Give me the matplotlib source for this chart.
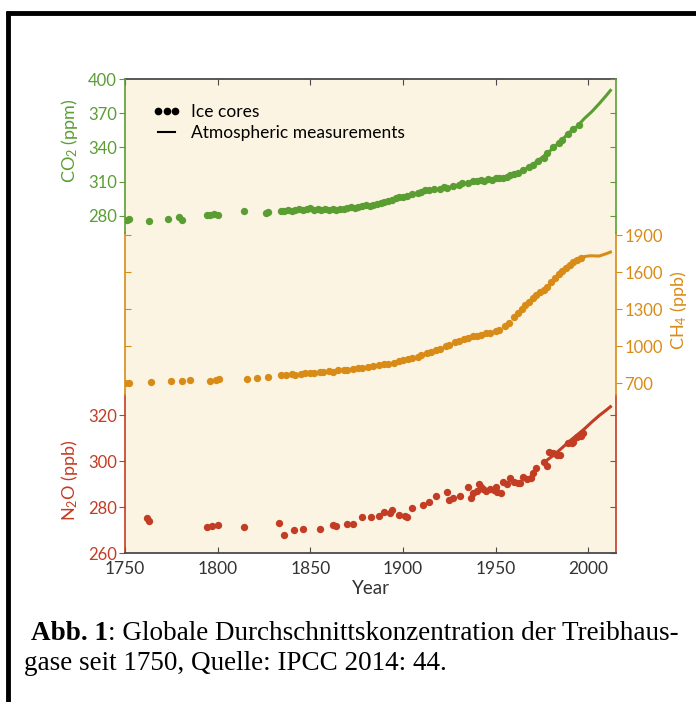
import matplotlib
matplotlib.use("Agg")
import matplotlib.pyplot as plt
from matplotlib.lines import Line2D

plt.rcParams["font.family"] = ["Lato", "DejaVu Sans"]
plt.rcParams["mathtext.fontset"] = "custom"
plt.rcParams["mathtext.rm"] = "Lato"
plt.rcParams["mathtext.it"] = "Lato:italic"

GREEN = "#5a9e33"
ORANGE = "#d98b17"
RED = "#c33c24"
BG = "#fcf4e2"
AXIS_GREY = "#4a4a4a"

# CO2 (ppm)
co2_ice_years = [1751, 1752, 1763, 1773, 1779, 1781, 1794, 1796, 1798, 1800, 1814, 1826, 1827,
                 1834, 1836, 1838, 1840, 1842, 1844, 1846, 1848, 1850, 1852, 1854, 1856, 1858,
                 1860, 1862, 1864, 1866, 1868, 1870, 1872, 1874, 1876, 1878, 1880, 1882, 1884,
                 1886, 1888, 1890, 1892, 1894, 1896, 1898, 1900, 1902, 1905, 1908, 1910, 1912,
                 1914, 1917, 1920, 1922, 1924, 1927, 1930, 1932, 1935, 1938, 1940, 1942, 1944,
                 1946, 1948, 1950, 1952, 1954, 1956, 1958, 1960, 1962, 1965, 1968, 1970, 1973,
                 1976, 1978, 1981, 1984, 1986, 1989, 1992, 1995]
co2_ice_ppm = [276.6, 277.5, 276.0, 277.2, 279.5, 276.5, 281.0, 280.5, 281.5, 281.0, 284.0, 282.5, 283.5,
               284.0, 284.5, 285.0, 284.5, 285.5, 286.0, 285.0, 286.5, 287.0, 285.5, 286.0, 285.0, 286.0,
               285.5, 286.0, 285.0, 286.5, 286.0, 287.0, 287.5, 287.0, 288.0, 289.0, 289.5, 288.5, 290.0,
               290.5, 291.0, 292.0, 293.5, 294.0, 295.5, 297.0, 296.5, 297.5, 299.5, 300.0, 301.0, 302.5,
               303.0, 303.5, 304.0, 305.0, 304.5, 306.0, 307.0, 308.5, 309.0, 310.5, 311.0, 311.5, 311.0,
               312.0, 311.5, 313.0, 313.5, 313.0, 314.5, 315.5, 317.0, 318.0, 320.0, 322.5, 325.0, 328.5,
               331.0, 335.0, 340.0, 344.0, 347.0, 351.5, 356.0, 360.0]
co2_atm_years = [1958, 1962, 1966, 1970, 1974, 1978, 1982, 1986, 1990, 1994, 1998, 2002, 2006, 2010, 2012]
co2_atm_ppm = [315.0, 318.0, 321.0, 325.0, 330.0, 335.0, 341.0, 347.0, 353.5, 358.5, 365.5, 371.5,
               378.5, 386.0, 390.0]

# CH4 (ppb)
ch4_ice_years = [1750, 1752, 1764, 1775, 1781, 1785, 1796, 1799, 1801, 1816, 1821, 1827,
                 1834, 1837, 1840, 1842, 1845, 1847, 1850, 1852, 1855, 1857, 1860, 1862,
                 1865, 1868, 1870, 1873, 1876, 1878, 1881, 1884, 1887, 1890, 1892, 1895,
                 1898, 1900, 1903, 1905, 1908, 1910, 1913, 1915, 1918, 1920, 1923, 1925,
                 1928, 1930, 1933, 1935, 1938, 1940, 1942, 1945, 1947, 1950, 1952, 1955,
                 1957, 1960, 1962, 1964, 1966, 1968, 1970, 1972, 1974, 1976, 1978, 1980,
                 1982, 1984, 1986, 1988, 1990, 1992, 1994, 1996]
ch4_ice_ppb = [698, 702, 705, 718, 716, 722, 715, 724, 730, 735, 738, 745,
               762, 766, 772, 768, 777, 780, 782, 779, 792, 787, 797, 793,
               803, 808, 805, 814, 818, 822, 827, 835, 845, 852, 858, 866,
               875, 888, 895, 902, 915, 925, 942, 952, 968, 978, 998, 1010,
               1030, 1040, 1055, 1062, 1078, 1085, 1090, 1102, 1108, 1118, 1132, 1162,
               1185, 1232, 1268, 1300, 1330, 1360, 1390, 1412, 1440, 1458, 1482, 1518,
               1550, 1580, 1608, 1632, 1660, 1682, 1700, 1712]
ch4_atm_years = [1984, 1986, 1988, 1990, 1992, 1994, 1996, 1998, 2000, 2002, 2004, 2006, 2008, 2010, 2012]
ch4_atm_ppb = [1590, 1615, 1640, 1665, 1690, 1705, 1715, 1725, 1730, 1732, 1730, 1730, 1740, 1750, 1762]

# N2O (ppb)
n2o_ice_years = [1762, 1763, 1794, 1797, 1800, 1814, 1833, 1836, 1841, 1846, 1855, 1862,
                 1864, 1870, 1873, 1878, 1883, 1887, 1890, 1893, 1894, 1898, 1901, 1902,
                 1905, 1911, 1914, 1918, 1924, 1925, 1927, 1931, 1935, 1937, 1938, 1940,
                 1941, 1942, 1943, 1945, 1947, 1949, 1950, 1951, 1953, 1954, 1956, 1958,
                 1960, 1962, 1963, 1965, 1967, 1969, 1970, 1972, 1976, 1978, 1979, 1981,
                 1983, 1985, 1989, 1991, 1992, 1994, 1996, 1997]
n2o_ice_ppb = [275.2, 273.8, 271.3, 271.7, 272.2, 271.3, 273.0, 267.8, 270.0, 270.4, 270.4, 272.2,
               271.8, 272.6, 272.4, 275.6, 275.6, 276.0, 277.8, 277.4, 278.7, 276.5, 276.0, 275.6,
               279.6, 281.0, 282.0, 285.0, 286.5, 283.0, 284.0, 285.0, 288.6, 284.0, 286.0, 287.0,
               290.0, 288.5, 288.0, 287.0, 288.0, 287.5, 288.7, 286.5, 286.0, 291.0, 290.0, 292.6,
               291.0, 290.5, 290.4, 293.0, 292.0, 292.6, 295.0, 297.0, 299.6, 298.0, 304.0, 303.5,
               302.8, 302.6, 307.8, 308.0, 308.3, 310.4, 311.0, 312.0]
n2o_atm_years = [1978, 1982, 1986, 1990, 1994, 1998, 2002, 2006, 2010, 2012]
n2o_atm_ppb = [300.5, 303.0, 305.8, 308.7, 311.3, 314.0, 317.0, 319.8, 322.3, 323.6]

co2_ticks = [280, 310, 340, 370, 400]
ch4_ticks = [700, 1000, 1300, 1600, 1900]
n2o_ticks = [260, 280, 300, 320]
year_ticks = [1750, 1800, 1850, 1900, 1950, 2000]

fig = plt.figure(figsize=(6.96, 7.02), dpi=100)
rect = [125 / 696, 1 - 553 / 702, 491 / 696, 474 / 702]
ax_n2o = fig.add_axes(rect)
ax_ch4 = fig.add_axes(rect, sharex=ax_n2o)
ax_co2 = fig.add_axes(rect, sharex=ax_n2o)
ax_n2o.set_facecolor(BG)
for a in (ax_ch4, ax_co2):
    a.patch.set_visible(False)

ax_n2o.set_xlim(1750, 2015)
ax_co2.set_ylim(-15.2, 400)
ax_ch4.set_ylim(-678, 3165)
ax_n2o.set_ylim(260, 466.1)

# data
ax_co2.scatter(co2_ice_years, co2_ice_ppm, s=28, color=GREEN, lw=0, zorder=3)
ax_co2.plot(co2_atm_years, co2_atm_ppm, color=GREEN, lw=2.2, zorder=2)
ax_ch4.scatter(ch4_ice_years, ch4_ice_ppb, s=28, color=ORANGE, lw=0, zorder=3)
ax_ch4.plot(ch4_atm_years, ch4_atm_ppb, color=ORANGE, lw=2.2, zorder=2)
ax_n2o.scatter(n2o_ice_years, n2o_ice_ppb, s=28, color=RED, lw=0, zorder=3)
ax_n2o.plot(n2o_atm_years, n2o_atm_ppb, color=RED, lw=2.2, zorder=2)

# x axis
ax_n2o.set_xticks(year_ticks)
ax_n2o.tick_params(axis="x", direction="in", top=True, length=4, color=AXIS_GREY,
                   labelsize=12.5, labelcolor="#333333", pad=6)
ax_n2o.set_xlabel("Year", fontsize=13.5, color="#333333", labelpad=2)
for a in (ax_ch4, ax_co2):
    a.tick_params(axis="x", bottom=False, labelbottom=False)
for s in ("top", "bottom"):
    ax_n2o.spines[s].set_color(AXIS_GREY)
    ax_n2o.spines[s].set_linewidth(1.3)
    ax_ch4.spines[s].set_visible(False)
    ax_co2.spines[s].set_visible(False)

# segmented y spines
segments = [(ax_co2, GREEN, (265.3, 400)), (ax_ch4, ORANGE, (603, 1916)), (ax_n2o, RED, (260, 328.7))]
for a, col, bounds in segments:
    for s in ("left", "right"):
        a.spines[s].set_color(col)
        a.spines[s].set_linewidth(1.2)
        a.spines[s].set_bounds(*bounds)

# CO2 ticks: labels left, mirrored inward ticks right
ax_co2.set_yticks(co2_ticks)
ax_co2.tick_params(axis="y", direction="out", length=4, color=GREEN, labelcolor=GREEN, labelsize=12, pad=2)
sec = ax_co2.secondary_yaxis("right")
sec.set_yticks(co2_ticks)
sec.tick_params(direction="in", length=4, color=GREEN, labelright=False)
sec.spines["right"].set_visible(False)
ax_co2.set_ylabel("CO$_2$ (ppm)", color=GREEN, fontsize=13)
ax_co2.yaxis.set_label_coords(-0.092, 0.871)

# CH4 ticks: labels right, mirrored inward ticks left
ax_ch4.yaxis.tick_right()
ax_ch4.yaxis.set_label_position("right")
ax_ch4.set_yticks(ch4_ticks)
ax_ch4.tick_params(axis="y", direction="out", length=4, color=ORANGE, labelcolor=ORANGE, labelsize=12, pad=2)
sec = ax_ch4.secondary_yaxis("left")
sec.set_yticks(ch4_ticks)
sec.tick_params(direction="in", length=4, color=ORANGE, labelleft=False)
sec.spines["left"].set_visible(False)
ax_ch4.set_ylabel("CH$_4$ (ppb)", color=ORANGE, fontsize=13, rotation=90)
ax_ch4.yaxis.set_label_coords(1.105, 0.513)

# N2O ticks
ax_n2o.set_yticks(n2o_ticks)
ax_n2o.tick_params(axis="y", direction="out", length=4, color=RED, labelcolor=RED, labelsize=12, pad=2)
sec = ax_n2o.secondary_yaxis("right")
sec.set_yticks(n2o_ticks)
sec.tick_params(direction="in", length=4, color=RED, labelright=False)
sec.spines["right"].set_visible(False)
ax_n2o.set_ylabel("N$_2$O (ppb)", color=RED, fontsize=13)
ax_n2o.yaxis.set_label_coords(-0.092, 0.154)

# legend with black proxies
handles = [Line2D([], [], ls="none", marker="o", color="black", markersize=4.5),
           Line2D([], [], color="black", lw=1.5)]
ax_co2.legend(handles, ["Ice cores", "Atmospheric measurements"], loc="upper left",
              bbox_to_anchor=(0.025, 0.98), frameon=False, fontsize=12.5, numpoints=3,
              handlelength=1.6, handletextpad=0.6, labelspacing=0.3)

# black frame
fig.add_artist(Line2D([6 / 696, 1], [1 - 13 / 702, 1 - 13 / 702], transform=fig.transFigure,
                      color="black", lw=3.5, solid_capstyle="butt"))
fig.add_artist(Line2D([8 / 696, 8 / 696], [0, 1 - 11 / 702], transform=fig.transFigure,
                      color="black", lw=3.5, solid_capstyle="butt"))

# caption
cap_font = "Liberation Serif"
cap_size = 19.5
t_bold = fig.text(31 / 696, 1 - 640 / 702, "Abb. 1", fontfamily=cap_font, fontweight="bold",
                  fontsize=cap_size, va="baseline")
ax_n2o.annotate(": Globale Durchschnittskonzentration der Treibhaus-", xy=(1, 1 - 640 / 702),
                xycoords=(t_bold, "figure fraction"), va="baseline", ha="left",
                fontfamily=cap_font, fontsize=cap_size, annotation_clip=False)
fig.text(24 / 696, 1 - 670 / 702, "gase seit 1750, Quelle: IPCC 2014: 44.", fontfamily=cap_font,
         fontsize=cap_size, va="baseline")

fig.savefig("out.png", dpi=100)
